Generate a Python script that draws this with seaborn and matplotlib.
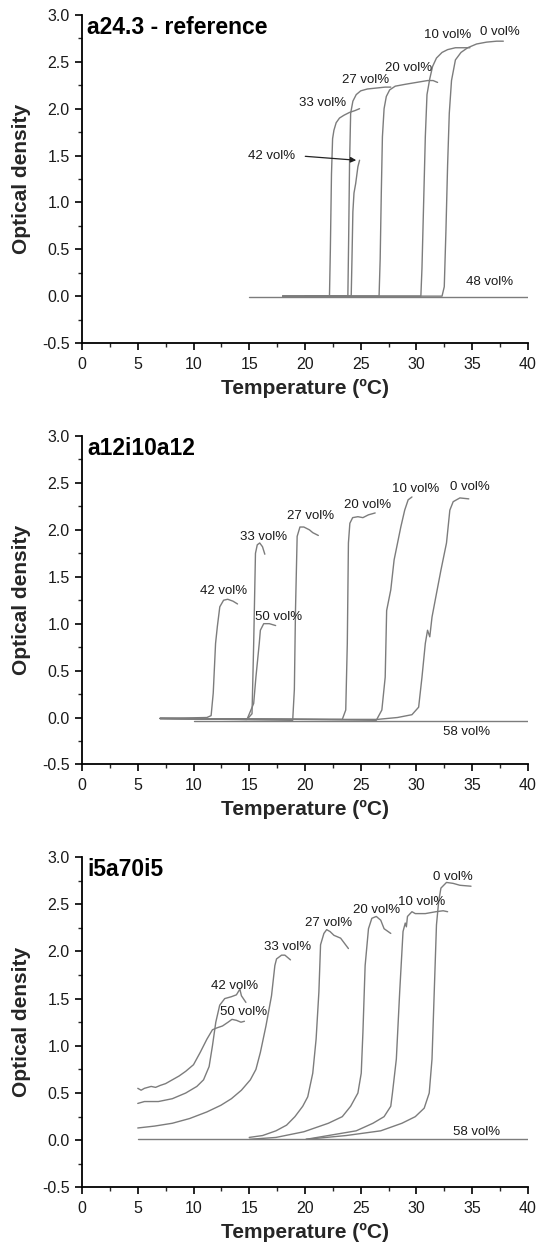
import matplotlib
matplotlib.use("Agg")
import matplotlib.pyplot as plt
import seaborn as sns
import pandas as pd
from matplotlib.ticker import MultipleLocator

# ---------------- Panel 1: a24.3 - reference ----------------
P1_TITLE = "a24.3 - reference"
P1_T_0 = [20, 32.3, 32.5, 32.65, 32.8, 32.95, 33.15, 33.5, 34.0, 34.6, 35.4, 36.3, 37.2, 37.8]
P1_OD_0 = [0.0, 0.0, 0.1, 0.7, 1.4, 1.95, 2.3, 2.52, 2.6, 2.65, 2.69, 2.71, 2.72, 2.72]
P1_T_10 = [20, 30.4, 30.5, 30.65, 30.8, 30.95, 31.2, 31.45, 31.8, 32.3, 32.8, 33.5, 34.2, 34.8]
P1_OD_10 = [0.0, 0.0, 0.3, 1.0, 1.7, 2.15, 2.32, 2.45, 2.54, 2.6, 2.63, 2.65, 2.65, 2.65]
P1_T_20 = [18, 26.65, 26.75, 26.85, 26.95, 27.1, 27.3, 27.6, 28.1, 29.0, 30.0, 31.0, 31.5, 31.9]
P1_OD_20 = [0.0, 0.0, 0.4, 1.1, 1.7, 2.0, 2.13, 2.2, 2.24, 2.26, 2.28, 2.30, 2.30, 2.28]
P1_T_27 = [18, 23.85, 23.92, 24.0, 24.1, 24.3, 24.6, 25.0, 25.6, 26.4, 27.2, 27.7]
P1_OD_27 = [0.0, 0.0, 0.6, 1.4, 1.95, 2.08, 2.15, 2.19, 2.21, 2.22, 2.23, 2.23]
P1_T_33 = [18, 22.2, 22.28, 22.38, 22.48, 22.6, 22.8, 23.1, 23.5, 24.0, 24.5, 24.9]
P1_OD_33 = [0.0, 0.0, 0.5, 1.3, 1.68, 1.77, 1.85, 1.9, 1.93, 1.96, 1.98, 2.0]
P1_T_42 = [18, 24.15, 24.22, 24.3, 24.4, 24.55, 24.75, 24.9]
P1_OD_42 = [0.0, 0.0, 0.4, 0.9, 1.1, 1.2, 1.38, 1.45]
P1_T_48 = [15, 40]
P1_OD_48 = [-0.01, -0.01]

# ---------------- Panel 2: a12i10a12 ----------------
P2_TITLE = "a12i10a12"
P2_T_0 = [7, 20, 26.5, 28.3, 29.6, 30.2, 30.5, 30.8, 31.0, 31.2, 31.4, 31.75, 32.2, 32.7, 33.0, 33.3, 33.9, 34.7]
P2_OD_0 = [-0.01, -0.02, -0.02, 0.0, 0.03, 0.11, 0.43, 0.79, 0.93, 0.86, 1.07, 1.29, 1.57, 1.86, 2.21, 2.30, 2.34, 2.33]
P2_T_10 = [7, 20, 26.4, 26.9, 27.2, 27.33, 27.7, 28.0, 28.6, 28.95, 29.26, 29.6]
P2_OD_10 = [-0.01, -0.02, -0.03, 0.08, 0.43, 1.14, 1.36, 1.68, 2.03, 2.21, 2.32, 2.35]
P2_T_20 = [7, 23.35, 23.66, 23.8, 23.9, 24.03, 24.28, 24.75, 25.2, 25.7, 26.3]
P2_OD_20 = [-0.01, -0.02, 0.08, 0.79, 1.86, 2.07, 2.13, 2.14, 2.13, 2.16, 2.18]
P2_T_27 = [7, 18.9, 19.05, 19.15, 19.3, 19.55, 19.9, 20.4, 20.7, 21.2]
P2_OD_27 = [-0.01, -0.03, 0.3, 1.14, 1.93, 2.03, 2.03, 2.0, 1.97, 1.94]
P2_T_33 = [7, 14.8, 15.25, 15.4, 15.56, 15.72, 15.94, 16.19, 16.4]
P2_OD_33 = [-0.01, -0.02, 0.04, 0.79, 1.75, 1.84, 1.86, 1.82, 1.74]
P2_T_42 = [7, 11.2, 11.58, 11.77, 11.98, 12.14, 12.36, 12.7, 13.07, 13.54, 13.95]
P2_OD_42 = [-0.01, 0.0, 0.02, 0.26, 0.79, 0.97, 1.18, 1.25, 1.26, 1.24, 1.21]
P2_T_50 = [7, 14.8, 15.4, 15.6, 15.9, 16.0, 16.3, 16.8, 17.37]
P2_OD_50 = [-0.01, -0.02, 0.15, 0.43, 0.79, 0.93, 1.0, 1.0, 0.98]
P2_T_58 = [10, 40]
P2_OD_58 = [-0.04, -0.04]

# ---------------- Panel 3: i5a70i5 ----------------
P3_TITLE = "i5a70i5"
P3_T_0 = [20.1, 23.7, 26.8, 28.7, 29.9, 30.7, 31.15, 31.4, 31.6, 31.8, 32.0, 32.2, 32.7, 33.3, 33.9, 34.9]
P3_OD_0 = [0.01, 0.05, 0.1, 0.18, 0.25, 0.34, 0.5, 0.86, 1.57, 2.28, 2.53, 2.67, 2.73, 2.72, 2.70, 2.69]
P3_T_10 = [20.1, 22.1, 24.6, 26.1, 27.1, 27.7, 27.85, 28.2, 28.5, 28.8, 29.0, 29.1, 29.2, 29.6, 29.9, 30.8, 31.75, 32.4, 32.8]
P3_OD_10 = [0.01, 0.05, 0.10, 0.18, 0.25, 0.36, 0.5, 0.86, 1.57, 2.21, 2.30, 2.26, 2.37, 2.42, 2.40, 2.40, 2.42, 2.43, 2.42]
P3_T_20 = [15, 17.4, 19.9, 22.1, 23.35, 24.1, 24.75, 25.05, 25.2, 25.4, 25.7, 26.0, 26.4, 26.8, 27.1, 27.7]
P3_OD_20 = [0.01, 0.03, 0.09, 0.18, 0.25, 0.36, 0.50, 0.71, 1.14, 1.85, 2.24, 2.35, 2.37, 2.33, 2.24, 2.19]
P3_T_27 = [15, 16.2, 17.4, 18.35, 19.1, 19.8, 20.25, 20.7, 21.0, 21.25, 21.4, 21.7, 21.95, 22.25, 22.6, 23.2, 23.9]
P3_OD_27 = [0.03, 0.05, 0.1, 0.16, 0.25, 0.36, 0.46, 0.71, 1.07, 1.57, 2.07, 2.19, 2.23, 2.21, 2.17, 2.14, 2.03]
P3_T_33 = [5, 6.5, 8.1, 9.65, 11.2, 12.45, 13.4, 14.3, 15.1, 15.6, 16.0, 16.5, 17.0, 17.3, 17.45, 17.9, 18.2, 18.7]
P3_OD_33 = [0.13, 0.15, 0.18, 0.23, 0.30, 0.37, 0.44, 0.53, 0.64, 0.75, 0.93, 1.21, 1.53, 1.85, 1.92, 1.96, 1.96, 1.91]
P3_T_42 = [5, 5.6, 6.85, 8.1, 9.3, 10.3, 10.9, 11.4, 11.7, 12.0, 12.35, 12.8, 13.4, 13.85, 14.16, 14.3, 14.7]
P3_OD_42 = [0.39, 0.41, 0.41, 0.44, 0.50, 0.57, 0.64, 0.78, 1.0, 1.25, 1.43, 1.50, 1.52, 1.54, 1.60, 1.53, 1.46]
P3_T_50 = [5, 5.3, 5.6, 6.2, 6.6, 7.0, 7.5, 8.1, 8.7, 9.3, 10.0, 10.6, 11.2, 11.7, 12.1, 12.6, 13.1, 13.45, 13.85, 14.26, 14.57]
P3_OD_50 = [0.55, 0.53, 0.55, 0.57, 0.56, 0.58, 0.60, 0.64, 0.68, 0.73, 0.80, 0.93, 1.07, 1.17, 1.19, 1.21, 1.25, 1.28, 1.27, 1.25, 1.26]
P3_T_58 = [5, 40]
P3_OD_58 = [0.01, 0.01]

# label positions (data coords) for each panel
P1_LABEL_POS = {"0 vol%": (37.5, 2.82), "10 vol%": (32.8, 2.79), "20 vol%": (29.3, 2.43),
                "27 vol%": (25.4, 2.31), "33 vol%": (21.6, 2.06), "42 vol%": (17.0, 1.50),
                "48 vol%": (36.6, 0.15)}
P2_LABEL_POS = {"0 vol%": (34.8, 2.46), "10 vol%": (29.9, 2.44), "20 vol%": (25.6, 2.26),
                "27 vol%": (20.5, 2.15), "33 vol%": (16.3, 1.92), "42 vol%": (12.7, 1.35),
                "50 vol%": (17.6, 1.07), "58 vol%": (34.5, -0.15)}
P3_LABEL_POS = {"0 vol%": (33.3, 2.79), "10 vol%": (30.5, 2.52), "20 vol%": (26.4, 2.44),
                "27 vol%": (22.1, 2.30), "33 vol%": (18.4, 2.05), "42 vol%": (13.7, 1.63),
                "50 vol%": (14.5, 1.36), "58 vol%": (35.4, 0.09)}
P1_ARROW_TIP = (24.6, 1.45)

sns.set_style("ticks")
plt.rcParams["font.family"] = ["Liberation Sans", "DejaVu Sans"]

LINE_COLOR = "#7c7c7c"
TEXT_COLOR = "#1a1a1a"

fig = plt.figure(figsize=(5.47, 12.45), dpi=100)
axes_rects = [
    [0.150, 0.7245, 0.815, 0.2635],
    [0.150, 0.3860, 0.815, 0.2638],
    [0.150, 0.0462, 0.815, 0.2655],
]

panels = [
    (P1_TITLE, [(P1_T_0, P1_OD_0), (P1_T_10, P1_OD_10), (P1_T_20, P1_OD_20), (P1_T_27, P1_OD_27),
                (P1_T_33, P1_OD_33), (P1_T_42, P1_OD_42), (P1_T_48, P1_OD_48)], P1_LABEL_POS),
    (P2_TITLE, [(P2_T_0, P2_OD_0), (P2_T_10, P2_OD_10), (P2_T_20, P2_OD_20), (P2_T_27, P2_OD_27),
                (P2_T_33, P2_OD_33), (P2_T_42, P2_OD_42), (P2_T_50, P2_OD_50), (P2_T_58, P2_OD_58)], P2_LABEL_POS),
    (P3_TITLE, [(P3_T_0, P3_OD_0), (P3_T_10, P3_OD_10), (P3_T_20, P3_OD_20), (P3_T_27, P3_OD_27),
                (P3_T_33, P3_OD_33), (P3_T_42, P3_OD_42), (P3_T_50, P3_OD_50), (P3_T_58, P3_OD_58)], P3_LABEL_POS),
]

for i, (title, series, label_pos) in enumerate(panels):
    ax = fig.add_axes(axes_rects[i])
    rows = []
    for k, (t, od) in enumerate(series):
        for a, b in zip(t, od):
            rows.append({"T": a, "OD": b, "series": k})
    df = pd.DataFrame(rows)
    sns.lineplot(data=df, x="T", y="OD", units="series", estimator=None, sort=False,
                 color=LINE_COLOR, linewidth=1.0, ax=ax)
    ax.set_xlim(0, 40)
    ax.set_ylim(-0.5, 3.0)
    ax.xaxis.set_major_locator(MultipleLocator(5))
    ax.xaxis.set_minor_locator(MultipleLocator(2.5))
    ax.yaxis.set_minor_locator(MultipleLocator(0.25))
    ax.set_yticks([-0.5, 0.0, 0.5, 1.0, 1.5, 2.0, 2.5, 3.0])
    ax.set_yticklabels(["-0.5", "0.0", "0.5", "1.0", "1.5", "2.0", "2.5", "3.0"])
    ax.tick_params(which="major", direction="out", length=5, width=1.2, labelsize=11.5,
                   colors="black", labelcolor=TEXT_COLOR)
    ax.tick_params(axis="x", which="major", pad=5)
    ax.tick_params(axis="y", which="major", pad=4)
    ax.tick_params(which="minor", direction="out", length=3, width=1.0)
    sns.despine(ax=ax)
    for s in ("left", "bottom"):
        ax.spines[s].set_linewidth(1.3)
        ax.spines[s].set_color("black")
    ax.set_xlabel("Temperature (ºC)", fontsize=15, fontweight="bold", labelpad=5)
    ax.set_ylabel("Optical density", fontsize=15, fontweight="bold", labelpad=8)
    ax.text(0.012, 0.962, title, transform=ax.transAxes, fontsize=16.5, fontweight="bold",
            ha="left", va="center", color="black")
    for lab, (x, y) in label_pos.items():
        if i == 0 and lab == "42 vol%":
            ax.annotate(lab, xy=P1_ARROW_TIP, xytext=(x, y), fontsize=9.5, ha="center", va="center",
                        color=TEXT_COLOR,
                        arrowprops=dict(arrowstyle="-|>", color="#222222", lw=0.9, relpos=(1.0, 0.5),
                                        shrinkA=5, shrinkB=0, mutation_scale=8))
        else:
            ax.text(x, y, lab, fontsize=9.5, ha="center", va="center", color=TEXT_COLOR)

fig.savefig("out.png", dpi=100)
